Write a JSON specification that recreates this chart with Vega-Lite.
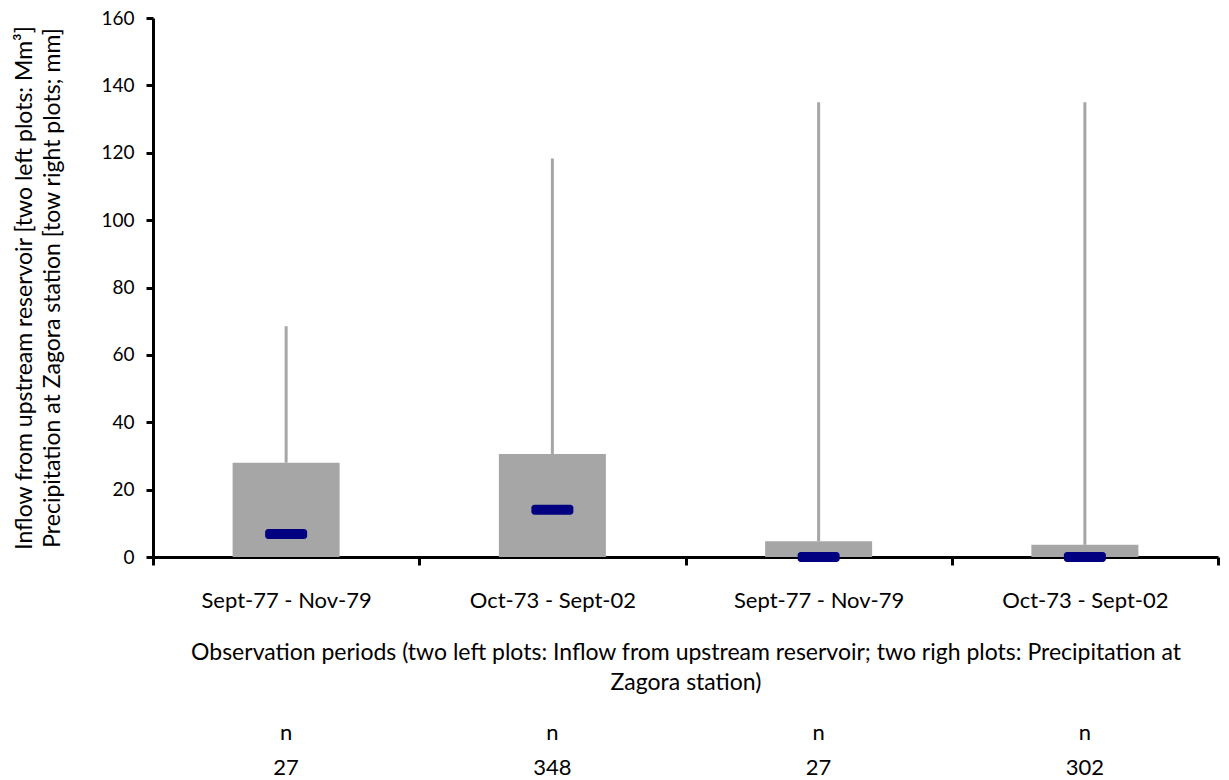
{
  "$schema": "https://vega.github.io/schema/vega-lite/v6.json",
  "padding": {"left": 13, "top": 9, "right": 5, "bottom": 0},
  "background": "white",
  "data": {
    "values": [
      {"plot": "Inflow|Sept-77 - Nov-79", "q1": 0, "median": 6.8, "q3": 28, "max": 68.5, "n": 27},
      {"plot": "Inflow|Oct-73 - Sept-02", "q1": 0, "median": 14, "q3": 30.6, "max": 118.3, "n": 348},
      {"plot": "Precipitation|Sept-77 - Nov-79", "q1": 0, "median": 0, "q3": 4.7, "max": 135, "n": 27},
      {"plot": "Precipitation|Oct-73 - Sept-02", "q1": 0, "median": 0, "q3": 3.6, "max": 135, "n": 302}
    ]
  },
  "spacing": 28,
  "vconcat": [
    {
      "width": 1065,
      "height": 539,
      "encoding": {
        "x": {
          "field": "plot",
          "type": "nominal",
          "sort": null,
          "scale": {"padding": 0},
          "title": ["Observation periods (two left plots:  Inflow from upstream reservoir; two righ plots:  Precipitation at", "Zagora station)"],
          "axis": {
            "labelExpr": "split(datum.label, '|')[1]",
            "labelAngle": 0,
            "tickBand": "extent",
            "labelOverlap": false,
            "labelBound": false
          }
        }
      },
      "layer": [
        {
          "mark": {"type": "rule", "color": "#A6A6A6", "strokeWidth": 3},
          "encoding": {
            "y": {"field": "q3", "type": "quantitative", "scale": {"domain": [0, 160], "nice": false}, "title": ["Inflow from upstream  reservoir [two left plots:  Mm³]", "Precipitation at Zagora station  [tow right plots; mm]"]},
            "y2": {"field": "max"}
          }
        },
        {
          "mark": {"type": "bar", "color": "#A6A6A6", "size": 107},
          "encoding": {
            "y": {"field": "q1", "type": "quantitative", "title": ["Inflow from upstream  reservoir [two left plots:  Mm³]", "Precipitation at Zagora station  [tow right plots; mm]"]},
            "y2": {"field": "q3"}
          }
        },
        {
          "mark": {"type": "tick", "color": "#000080", "size": 42, "thickness": 10, "cornerRadius": 3, "opacity": 1},
          "encoding": {
            "y": {"field": "median", "type": "quantitative", "title": ["Inflow from upstream  reservoir [two left plots:  Mm³]", "Precipitation at Zagora station  [tow right plots; mm]"]}
          }
        }
      ]
    },
    {
      "width": 1065,
      "height": 35,
      "encoding": {
        "x": {"field": "plot", "type": "nominal", "sort": null, "bandPosition": 0.5, "scale": {"type": "band", "padding": 0}, "axis": null}
      },
      "layer": [
        {
          "mark": {"type": "text", "text": "n", "font": "Lato", "fontSize": 22, "color": "#000", "baseline": "middle"},
          "encoding": {
            "y": {"datum": "header", "type": "ordinal", "scale": {"type": "point", "domain": ["header", "count"], "padding": 0}, "axis": null}
          }
        },
        {
          "mark": {"type": "text", "font": "Lato", "fontSize": 22, "color": "#000", "baseline": "middle"},
          "encoding": {
            "y": {"datum": "count", "type": "ordinal", "axis": null},
            "text": {"field": "n", "type": "quantitative"}
          }
        }
      ]
    }
  ],
  "config": {
    "view": {"stroke": null},
    "font": "Lato",
    "axis": {
      "labelFont": "Lato",
      "titleFont": "Lato",
      "labelColor": "#000",
      "titleColor": "#000",
      "domainColor": "#000",
      "tickColor": "#000",
      "domainWidth": 3,
      "tickWidth": 3,
      "grid": false,
      "titleFontWeight": "normal"
    },
    "axisY": {
      "labelFontSize": 19,
      "titleFontSize": 23,
      "tickSize": 7,
      "labelPadding": 12,
      "titlePadding": 36,
      "titleLineHeight": 28,
      "tickCount": 8
    },
    "axisX": {
      "labelFontSize": 22,
      "titleFontSize": 23,
      "tickSize": 8,
      "labelPadding": 25,
      "titlePadding": 30,
      "titleLineHeight": 30
    }
  }
}
